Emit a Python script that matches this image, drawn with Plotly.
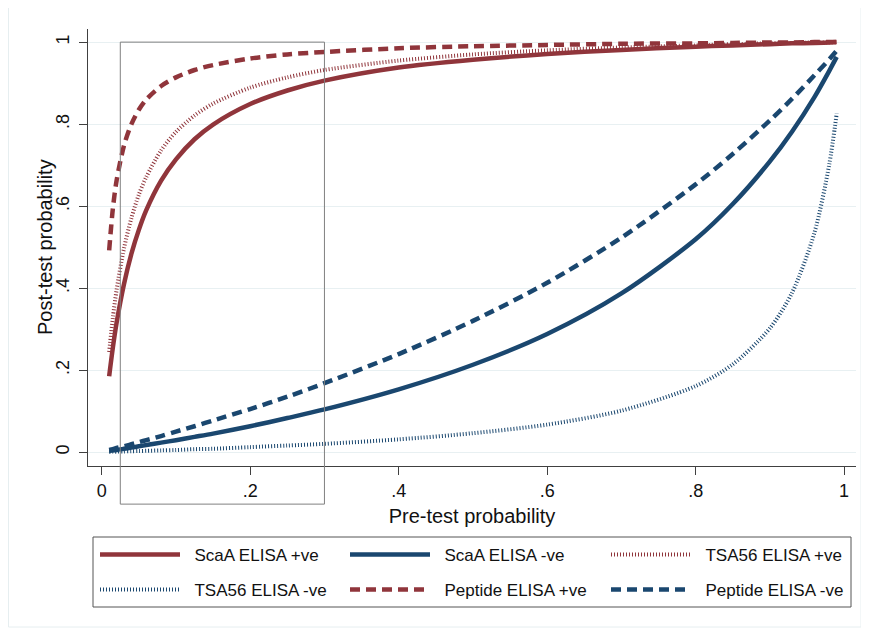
import plotly.graph_objects as go

# ---------------- data ----------------
pre_test = [0.01, 0.015, 0.02, 0.03, 0.04, 0.05, 0.06, 0.08, 0.10, 0.125, 0.15, 0.20,
            0.25, 0.30, 0.40, 0.50, 0.60, 0.70, 0.80, 0.85, 0.90, 0.93, 0.96, 0.98, 0.99]

scaa_pos = [0.185, 0.255, 0.315, 0.410, 0.484, 0.542, 0.590, 0.662, 0.714, 0.763, 0.799, 0.849,
            0.882, 0.906, 0.938, 0.957, 0.971, 0.981, 0.989, 0.992, 0.995, 0.997, 0.998, 0.999, 1.000]
scaa_neg = [0.003, 0.004, 0.005, 0.008, 0.011, 0.014, 0.017, 0.023, 0.029, 0.037, 0.045, 0.063,
            0.083, 0.104, 0.153, 0.213, 0.288, 0.387, 0.519, 0.605, 0.709, 0.782, 0.866, 0.930, 0.964]
tsa_pos = [0.244, 0.328, 0.395, 0.497, 0.571, 0.628, 0.671, 0.736, 0.781, 0.821, 0.850, 0.889,
           0.914, 0.932, 0.955, 0.970, 0.980, 0.987, 0.992, 0.995, 0.997, 0.998, 0.999, 0.999, 1.000]
tsa_neg = [0.0005, 0.0007, 0.001, 0.0015, 0.002, 0.0025, 0.003, 0.004, 0.005, 0.007, 0.008, 0.012,
           0.016, 0.020, 0.031, 0.046, 0.067, 0.101, 0.161, 0.214, 0.302, 0.389, 0.535, 0.702, 0.826]
pep_pos = [0.492, 0.594, 0.662, 0.748, 0.800, 0.835, 0.860, 0.893, 0.914, 0.932, 0.944, 0.960,
           0.970, 0.976, 0.985, 0.990, 0.993, 0.996, 0.997, 0.998, 0.999, 0.999, 1.000, 1.000, 1.000]
pep_neg = [0.005, 0.007, 0.010, 0.014, 0.019, 0.024, 0.029, 0.039, 0.050, 0.063, 0.077, 0.105,
           0.135, 0.168, 0.239, 0.320, 0.413, 0.523, 0.653, 0.727, 0.809, 0.862, 0.919, 0.958, 0.979]

series_names = ["ScaA ELISA +ve", "ScaA ELISA -ve", "TSA56 ELISA +ve",
                "TSA56 ELISA -ve", "Peptide ELISA +ve", "Peptide ELISA -ve"]
series_values = [scaa_pos, scaa_neg, tsa_pos, tsa_neg, pep_pos, pep_neg]

tick_vals = [0, 0.2, 0.4, 0.6, 0.8, 1]
tick_text = ["0", ".2", ".4", ".6", ".8", "1"]

zoom_box_x = [0.025, 0.3]
zoom_box_y = [-0.127, 1.0]

# ---------------- styles / layout ----------------
RED = "#90353B"
BLUE = "#1A476F"
styles = [
    dict(color=RED, width=4.5, dash="solid"),
    dict(color=BLUE, width=4.5, dash="solid"),
    dict(color=RED, width=4, dash="1px,2px"),
    dict(color=BLUE, width=4, dash="1px,2px"),
    dict(color=RED, width=4.5, dash="10px,6px"),
    dict(color=BLUE, width=4.5, dash="10px,6px"),
]

# the page body adds an 8px offset; work in screen pixels and subtract it
OFF = 8
W, H = 869 - OFF, 635 - OFF
L, R, T, B = 88 - OFF, 856 - OFF, 29 - OFF, 466 - OFF   # plot area in figure px

col_px = [95, 345, 606]
row_px = [555, 590]
legend_pos = [(col_px[i % 3], row_px[i // 3]) for i in range(6)]
legend_ids = ["legend"] + ["legend%d" % (i + 1) for i in range(1, 6)]
PAD = "\u00a0\u00a0"

X_RANGE = [-0.0185, 1.016]
Y_RANGE = [-0.034, 1.032]

fig = go.Figure()
draw_order = [1, 3, 5, 0, 2, 4]
for i in draw_order:
    fig.add_trace(go.Scatter(
        x=pre_test, y=series_values[i], mode="lines", name=PAD + series_names[i],
        line=dict(color=styles[i]["color"], width=styles[i]["width"],
                  dash=styles[i]["dash"], shape="spline", smoothing=0.8),
        legend=legend_ids[i], hovertemplate=series_names[i] + ": %{x}, %{y}<extra></extra>",
    ))

def px(v):
    return (v - X_RANGE[0]) / (X_RANGE[1] - X_RANGE[0])

def py(v):
    return (v - Y_RANGE[0]) / (Y_RANGE[1] - Y_RANGE[0])

def ppx(p):  # screen px -> paper
    return (p - OFF - L) / (R - L)

def ppy(p):
    return (B - (p - OFF)) / (B - T)

shapes = [
    dict(type="rect", xref="paper", yref="paper",
         x0=px(zoom_box_x[0]), x1=px(zoom_box_x[1]),
         y0=py(zoom_box_y[0]), y1=py(zoom_box_y[1]),
         line=dict(color="#808080", width=1), fillcolor="rgba(0,0,0,0)", layer="above"),
    dict(type="rect", xref="paper", yref="paper",
         x0=ppx(93), x1=ppx(851), y0=ppy(607), y1=ppy(537),
         line=dict(color="#555555", width=1), fillcolor="rgba(0,0,0,0)"),
    dict(type="rect", xref="paper", yref="paper",
         x0=ppx(8.5), x1=ppx(861), y0=ppy(627), y1=ppy(7.5),
         line=dict(color="#e6eef0", width=1), fillcolor="rgba(0,0,0,0)", layer="below"),
]

FONT = "Liberation Sans, Arial, sans-serif"
legends = {}
for i in range(6):
    lx, ly = legend_pos[i]
    legends[legend_ids[i]] = dict(
        orientation="h", xanchor="left", yanchor="middle",
        x=ppx(lx), y=ppy(ly),
        bgcolor="rgba(0,0,0,0)", borderwidth=0,
        font=dict(family=FONT, size=17, color="#111111"),
        itemwidth=80, itemclick=False, itemdoubleclick=False,
    )

fig.update_layout(
    width=W, height=H,
    margin=dict(l=L, r=W - R, t=T, b=H - B, autoexpand=False),
    paper_bgcolor="white", plot_bgcolor="white",
    font=dict(family=FONT, color="#111111"),
    showlegend=True,
    shapes=shapes,
    annotations=[dict(text="Post-test probability", xref="paper", yref="paper",
                      x=ppx(45), y=ppy(247), xanchor="center", yanchor="middle",
                      textangle=-90, showarrow=False,
                      font=dict(family=FONT, size=20, color="#111111"))],
    xaxis=dict(
        range=X_RANGE, tickvals=tick_vals, ticktext=tick_text, automargin=False,
        showgrid=False, zeroline=False,
        showline=True, linecolor="#404040", linewidth=1,
        ticks="outside", ticklen=8, tickcolor="#404040", tickwidth=1,
        tickfont=dict(family=FONT, size=18, color="#111111"),
        title=dict(text="Pre-test probability", font=dict(family=FONT, size=20, color="#111111"),
                   standoff=9),
    ),
    yaxis=dict(
        range=Y_RANGE, tickvals=tick_vals, ticktext=tick_text, tickangle=-90, automargin=False,
        showgrid=True, gridcolor="#e8f0f2", gridwidth=1, zeroline=False,
        showline=True, linecolor="#404040", linewidth=1,
        ticks="outside", ticklen=8, tickcolor="#404040", tickwidth=1,
        ticklabelstandoff=3,
        tickfont=dict(family=FONT, size=18, color="#111111"),
    ),
    **legends,
)

fig.write_html("out.html")
